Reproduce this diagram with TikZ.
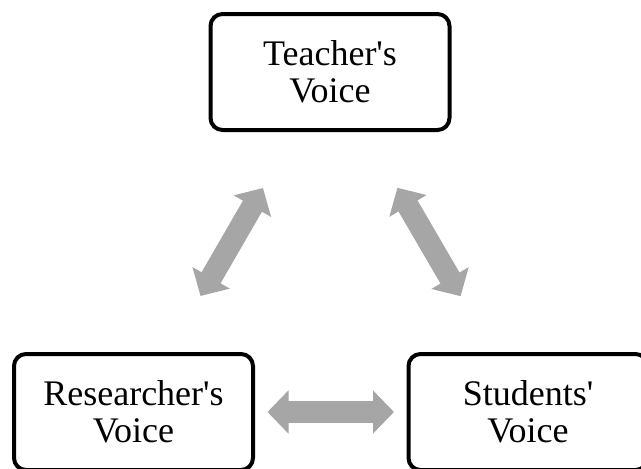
\documentclass[tikz,border=0pt]{standalone}
\usepackage{fontspec}
\setmainfont{Liberation Serif}
\usetikzlibrary{arrows.meta}
\definecolor{arrowgray}{HTML}{A6A6A6}
\tikzset{
  voicebox/.style={draw=black, line width=4pt, rounded corners=12pt, fill=white,
    minimum width=239pt, minimum height=116pt, align=center, inner sep=0pt,
    font=\fontsize{36pt}{37pt}\selectfont},
  linkarrow/.style={draw=arrowgray, line width=22pt,
    {Triangle[length=21pt,width=42pt]}-{Triangle[length=21pt,width=42pt]},
    shorten <=134pt, shorten >=134pt}
}
\begin{document}
\begin{tikzpicture}[x=1pt,y=-1pt]
\useasboundingbox (0,0) rectangle (641,469);
\node[voicebox] (t) at (330,72) {Teacher\textquotesingle s\\Voice};
\node[voicebox] (r) at (133.5,412) {Researcher\textquotesingle s\\Voice};
\node[voicebox] (s) at (528,412) {Students\textquotesingle\\Voice};
\draw[linkarrow] (r.center) -- (t.center);
\draw[linkarrow] (t.center) -- (s.center);
\draw[linkarrow] (r.center) -- (s.center);
\end{tikzpicture}
\end{document}
